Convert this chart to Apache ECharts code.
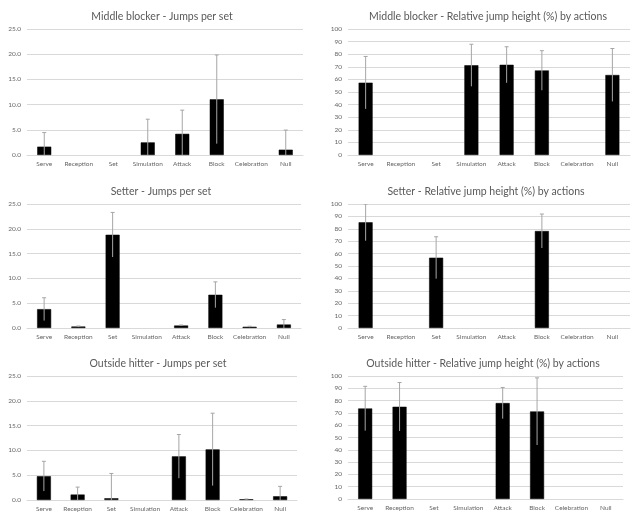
<!DOCTYPE html>
<html><head><meta charset="utf-8">
<script src="https://cdn.jsdelivr.net/npm/echarts@6/dist/echarts.min.js"></script>
<style>html,body{margin:0;padding:0;background:#fff}#c{width:636px;height:516px}</style>
</head><body><div id="c"></div>
<script>
const categories = ['Serve','Reception','Set','Simulation','Attack','Block','Celebration','Null'];
const titles = ['Middle blocker - Jumps per set','Middle blocker - Relative jump height (%) by actions','Setter - Jumps per set','Setter - Relative jump height (%) by actions','Outside hitter - Jumps per set','Outside hitter - Relative jump height (%) by actions'];
const jumpTicks = [0, 25, 5];
const heightTicks = [0, 100, 10];

const mbJumps   = [1.65, null, null, 2.5, 4.2, 11.05, null, 1.05];
const mbJumpsSd = [2.8, null, null, 4.6, 4.7, 8.8, null, 3.9];
const mbHeight   = [57.4, null, null, 71.2, 71.6, 67.1, null, 63.5];
const mbHeightSd = [20.8, null, null, 16.7, 14.3, 15.7, null, 21.0];

const stJumps   = [3.8, 0.3, 18.8, null, 0.5, 6.7, 0.25, 0.7];
const stJumpsSd = [2.3, 0.1, 4.5, null, 0.1, 2.6, 0.1, 1.0];
const stHeight   = [85.2, null, 56.7, null, null, 78.2, null, null];
const stHeightSd = [14.8, null, 16.9, null, null, 13.7, null, null];

const ohJumps   = [4.8, 1.1, 0.35, null, 8.8, 10.2, 0.15, 0.75];
const ohJumpsSd = [3.0, 1.5, 5.0, null, 4.4, 7.3, 0.05, 2.0];
const ohHeight   = [73.6, 75.0, null, null, 78.0, 71.2, null, null];
const ohHeightSd = [18.0, 19.7, null, null, 12.7, 27.3, null, null];

const panels = [
  {m: mbJumps, s: mbJumpsSd, t: jumpTicks, dec: 1},
  {m: mbHeight, s: mbHeightSd, t: heightTicks, dec: 0},
  {m: stJumps, s: stJumpsSd, t: jumpTicks, dec: 1},
  {m: stHeight, s: stHeightSd, t: heightTicks, dec: 0},
  {m: ohJumps, s: ohJumpsSd, t: jumpTicks, dec: 1},
  {m: ohHeight, s: ohHeightSd, t: heightTicks, dec: 0}
];
const grids = [
  {left: 27, top: 29, width: 276, height: 126},
  {left: 348, top: 29, width: 282, height: 126},
  {left: 27, top: 204, width: 274, height: 124},
  {left: 348, top: 204, width: 282, height: 124},
  {left: 27, top: 376, width: 270, height: 124},
  {left: 348, top: 376, width: 275, height: 123}
];
const titlePos = [[157, 6], [483, 6], [156, 181], [481, 181], [153, 353], [478, 353]];

const FONT = 'Lato';
const option = {
  backgroundColor: '#fff',
  animation: false,
  title: titles.map((t, i) => ({
    text: t, left: titlePos[i][0], top: titlePos[i][1], textAlign: 'center',
    textStyle: {fontFamily: FONT, fontSize: 10.5, fontWeight: 'normal', color: '#595959'}
  })),
  grid: grids,
  xAxis: grids.map((g, i) => ({
    type: 'category', gridIndex: i, data: categories,
    axisLine: {show: true, lineStyle: {color: '#d9d9d9'}},
    axisTick: {show: false},
    axisLabel: {fontFamily: FONT, fontSize: 6.5, color: '#666', margin: 5, interval: 0}
  })),
  yAxis: panels.map((p, i) => ({
    type: 'value', gridIndex: i, min: p.t[0], max: p.t[1], interval: p.t[2],
    axisLine: {show: false}, axisTick: {show: false},
    splitLine: {lineStyle: {color: '#d9d9d9', width: 1}},
    axisLabel: {fontFamily: FONT, fontSize: 6.5, color: '#666', margin: 6,
      formatter: v => v.toFixed(p.dec)}
  })),
  series: []
};
panels.forEach((p, i) => {
  option.series.push({
    type: 'bar', xAxisIndex: i, yAxisIndex: i, data: p.m, barWidth: 14,
    itemStyle: {color: '#000', borderColor: '#000', borderWidth: 0.5}
  });
  const ed = [];
  p.m.forEach((v, k) => { if (v != null && p.s[k] != null) ed.push([k, v, p.s[k]]); });
  option.series.push({
    type: 'custom', xAxisIndex: i, yAxisIndex: i, data: ed, z: 5, clip: true,
    renderItem: (params, api) => {
      const x = api.value(0), m = api.value(1), s = api.value(2);
      const hi = api.coord([x, m + s]);
      const lo = api.coord([x, Math.max(0, m - s)]);
      const st = {stroke: '#a6a6a6', lineWidth: 1};
      return {type: 'group', children: [
        {type: 'line', shape: {x1: hi[0], y1: hi[1], x2: lo[0], y2: lo[1]}, style: st},
        {type: 'line', shape: {x1: hi[0] - 2, y1: hi[1], x2: hi[0] + 2, y2: hi[1]}, style: st}
      ]};
    }
  });
});
const chart = echarts.init(document.getElementById('c'));
chart.setOption(option);
</script></body></html>
